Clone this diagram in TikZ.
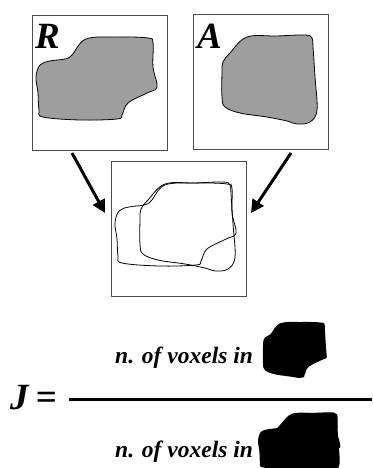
\documentclass[tikz,border=0pt]{standalone}
\usepackage{fontspec}
\setmainfont{Liberation Serif}
\usetikzlibrary{arrows.meta}
\newcommand\Rpath{plot[smooth cycle,tension=0.6] coordinates {(86,39) (117,37) (148,38) (153,43) (153,67) (157,87) (147,93) (128,103) (122,115) (117,119) (80,120) (43,117) (39,110) (38,93) (36,77) (40,65) (50,61) (65,59) (72,55)}}
\newcommand\Apath{plot[smooth cycle,tension=0.6] coordinates {(247,37) (277,36) (305,35) (312,38) (313,47) (315,77) (317,110) (310,122) (297,124) (287,121) (267,117) (240,113) (225,107) (222,97) (222,73) (223,62) (230,53)}}
\tikzset{
  frame/.style={draw=black!70, line width=0.9pt, minimum width=135pt, minimum height=135pt, inner sep=0pt},
  shapeline/.style={draw=black, line width=0.8pt},
  arr/.style={line width=3pt, -{Triangle[length=13pt,width=13pt]}},
  lbl/.style={inner sep=0pt, anchor=base west},
  big/.style={font=\fontsize{37}{37}\selectfont\bfseries\itshape},
  txt/.style={font=\fontsize{23.5}{23.5}\selectfont\bfseries\itshape},
}
\begin{document}
\begin{tikzpicture}[x=1pt,y=-1pt]
\useasboundingbox (0,0) rectangle (372,468);
% boxes
\node[frame] (rbox) at (99.5,83) {};
\node[frame] (abox) at (260.5,81.5) {};
\node[frame] (mbox) at (178.5,228.5) {};
% shapes in top boxes
\fill[black!38] \Rpath;
\draw[shapeline] \Rpath;
\fill[black!38] \Apath;
\draw[shapeline] \Apath;
% labels
\node[lbl, big] (rl) at (35,49) {R};
\node[lbl, big] (al) at (197,49) {A};
% overlay
\draw[shapeline, shift={(79,146)}] \Rpath;
\draw[shapeline, shift={(-82,147)}] \Apath;
% arrows
\coordinate (a1s) at (72,153);
\coordinate (a1e) at (105,213);
\coordinate (a2s) at (291,153);
\coordinate (a2e) at (251,213);
\draw[arr] (a1s) -- (a1e);
\draw[arr] (a2s) -- (a2e);
% formula
\node[lbl, font=\fontsize{37}{37}\selectfont\bfseries\itshape] (jl) at (10,409) {J\kern7pt=};
\coordinate (fl) at (69,399);
\coordinate (fr) at (372,399);
\draw[line width=3pt] (fl) -- (fr);
\node[lbl, txt] (num) at (115,363) {n. of voxels in};
\node[lbl, txt] (den) at (115,457) {n. of voxels in};
% intersection blob
\begin{scope}[shift={(167.8,197.56)}, scale=0.68]
  \clip[shift={(79,146)}] \Rpath;
  \fill[shift={(-82,147)}] \Apath;
\end{scope}
% union blob
\begin{scope}[shift={(179.8,288.56)}, scale=0.68]
  \fill[shift={(79,146)}] \Rpath;
  \fill[shift={(-82,147)}] \Apath;
\end{scope}
\end{tikzpicture}
\end{document}
